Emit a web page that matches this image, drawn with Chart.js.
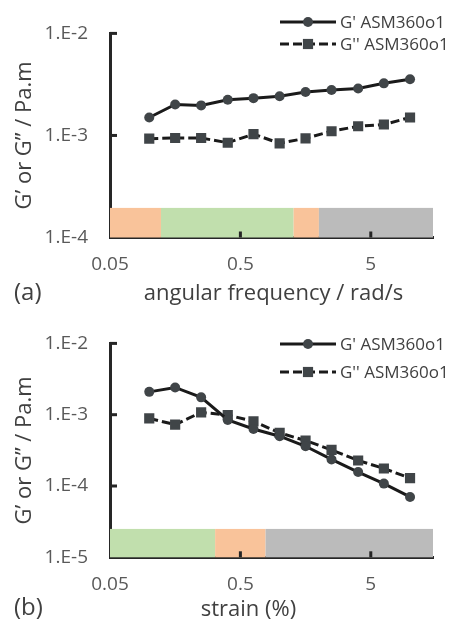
<!DOCTYPE html>
<html>
<head>
<meta charset="utf-8">
<script src="https://cdn.jsdelivr.net/npm/chart.js@4.4.1/dist/chart.umd.min.js"></script>
<style>
  html, body { margin: 0; padding: 0; background: #fff; }
  body { width: 449px; height: 623px; position: relative; overflow: hidden; font-family: "Open Sans", sans-serif; }
  .panel { position: absolute; left: 0; width: 449px; }
  .txt { position: absolute; color: #404040; white-space: nowrap; font-family: "Open Sans", sans-serif; line-height: 1; }
</style>
</head>
<body>
<div class="panel" style="top:0;height:310px;"><canvas id="chartA" width="449" height="310"></canvas></div>
<div class="panel" style="top:310px;height:313px;"><canvas id="chartB" width="449" height="313"></canvas></div>
<div class="txt" id="labA" style="left:14px;top:279px;font-size:24px;">(a)</div>
<div class="txt" id="titleA" style="left:0;width:547px;text-align:center;top:280px;font-size:22px;">angular frequency / rad/s</div>
<div class="txt" id="labB" style="left:14px;top:594px;font-size:24px;">(b)</div>
<div class="txt" id="titleB" style="left:0;width:497px;text-align:center;top:596px;font-size:22px;">strain (%)</div>
<script>
// ---------- data ----------
const seriesLabels = ["G' ASM360o1", "G'' ASM360o1"];

// (a) frequency sweep
const freqA = [0.1, 0.158, 0.25, 0.4, 0.63, 1, 1.58, 2.5, 4, 6.3, 10];
const gPrimeA = [1.50e-3, 2.01e-3, 1.97e-3, 2.24e-3, 2.32e-3, 2.42e-3, 2.67e-3, 2.79e-3, 2.89e-3, 3.24e-3, 3.55e-3];
const gDoubleA = [0.93e-3, 0.944e-3, 0.944e-3, 0.848e-3, 1.03e-3, 0.837e-3, 0.938e-3, 1.10e-3, 1.23e-3, 1.28e-3, 1.50e-3];
const bandEdgesA = [0.05, 0.123, 1.28, 2.0, 15];
const bandColorsA = ['#F9C39A', '#C1DFAD', '#F9C39A', '#BBBBBB'];
const bandTopA = 1.95e-4;
const yTicksA = [1e-4, 1e-3, 1e-2];
const yTickLabelsA = ['1.E-4', '1.E-3', '1.E-2'];

// (b) strain sweep
const strainB = [0.1, 0.158, 0.25, 0.4, 0.63, 1, 1.58, 2.5, 4, 6.3, 10];
const gPrimeB = [2.09e-3, 2.41e-3, 1.75e-3, 0.843e-3, 0.631e-3, 0.499e-3, 0.361e-3, 0.236e-3, 0.157e-3, 0.108e-3, 0.0703e-3];
const gDoubleB = [0.889e-3, 0.725e-3, 1.08e-3, 0.989e-3, 0.807e-3, 0.555e-3, 0.434e-3, 0.321e-3, 0.228e-3, 0.176e-3, 0.129e-3];
const bandEdgesB = [0.05, 0.32, 0.78, 15];
const bandColorsB = ['#C1DFAD', '#F9C39A', '#BBBBBB'];
const bandTopB = 2.5e-5;
const yTicksB = [1e-5, 1e-4, 1e-3, 1e-2];
const yTickLabelsB = ['1.E-5', '1.E-4', '1.E-3', '1.E-2'];

// shared x axis
const xMin = 0.05, xMax = 15;
const xTicks = [0.05, 0.5, 5];
const xTickLabels = ['0.05', '0.5', '5'];
const yTitle = 'G’ or G” / Pa.m';

// ---------- styles ----------
const AXIS = '#262626';
const LINE = '#1a1a1a';
const MARK = '#404548';
const TICKTXT = '#595959';
const FONT = '"Open Sans", sans-serif';

const bandsPlugin = {
  id: 'bands',
  beforeDatasetsDraw(chart, args, opts) {
    const {ctx, scales: {x, y}} = chart;
    const yb = y.getPixelForValue(y.min);
    const yt = y.getPixelForValue(opts.top);
    ctx.save();
    for (let i = 0; i < opts.colors.length; i++) {
      const x0 = x.getPixelForValue(opts.edges[i]);
      const x1 = x.getPixelForValue(opts.edges[i + 1]);
      ctx.fillStyle = opts.colors[i];
      ctx.fillRect(x0, yt, x1 - x0, yb - yt);
    }
    ctx.restore();
  }
};

const innerTicksPlugin = {
  id: 'innerTicks',
  beforeDatasetsDraw(chart, args, opts) {
    const {ctx, scales: {x, y}} = chart;
    const yb = y.getPixelForValue(y.min);
    const xl = x.getPixelForValue(x.min);
    ctx.save();
    ctx.fillStyle = AXIS;
    opts.xTicks.forEach(v => {
      if (v <= x.min) return;
      const px = x.getPixelForValue(v);
      ctx.fillRect(px - 1.5, yb - 6, 3, 6);
    });
    opts.yTicks.forEach(v => {
      if (v <= y.min) return;
      const py = y.getPixelForValue(v);
      ctx.fillRect(xl, py - 1.5, 7, 3);
    });
    ctx.restore();
  }
};

const legendPlugin = {
  id: 'customLegend',
  afterDatasetsDraw(chart, args, opts) {
    const {ctx} = chart;
    ctx.save();
    chart.data.datasets.forEach((ds, i) => {
      const yy = opts.rows[i];
      ctx.strokeStyle = ds.borderColor;
      ctx.lineWidth = ds.borderWidth;
      ctx.setLineDash(ds.borderDash || []);
      ctx.beginPath();
      ctx.moveTo(opts.x0, yy);
      ctx.lineTo(opts.x1, yy);
      ctx.stroke();
      ctx.setLineDash([]);
      ctx.fillStyle = ds.pointBackgroundColor;
      const mx = (opts.x0 + opts.x1) / 2;
      if (ds.pointStyle === 'rect') {
        const s = ds.pointRadius * Math.SQRT1_2;
        ctx.fillRect(mx - s, yy - s, 2 * s, 2 * s);
      } else {
        ctx.beginPath();
        ctx.arc(mx, yy, ds.pointRadius, 0, Math.PI * 2);
        ctx.fill();
      }
      ctx.fillStyle = '#404040';
      ctx.font = '17px ' + FONT;
      ctx.textAlign = 'left';
      ctx.textBaseline = 'middle';
      ctx.fillText(ds.label, opts.x1 + 4, yy + 1);
    });
    ctx.restore();
  }
};

function makeChart(id, xs, gp, gd, cfg) {
  const toPts = arr => arr.map((v, i) => ({x: xs[i], y: v}));
  return new Chart(document.getElementById(id), {
    type: 'line',
    data: {
      datasets: [
        {label: seriesLabels[0], data: toPts(gp), borderColor: LINE, borderWidth: 3,
         pointStyle: 'circle', pointRadius: 5, pointBorderWidth: 0,
         pointBackgroundColor: MARK, pointBorderColor: MARK, tension: 0},
        {label: seriesLabels[1], data: toPts(gd), borderColor: LINE, borderWidth: 3, borderDash: [9, 4],
         pointStyle: 'rect', pointRadius: 7.2, pointBorderWidth: 0,
         pointBackgroundColor: MARK, pointBorderColor: MARK, tension: 0}
      ]
    },
    options: {
      responsive: false,
      animation: false,
      events: [],
      layout: {padding: {top: cfg.top, right: 16, left: 0, bottom: 0}},
      plugins: {
        legend: {display: false},
        tooltip: {enabled: false},
        bands: {edges: cfg.bandEdges, colors: cfg.bandColors, top: cfg.bandTop},
        innerTicks: {xTicks: xTicks, yTicks: cfg.yTicks},
        customLegend: {rows: cfg.legendRows, x0: 280, x1: 336}
      },
      scales: {
        x: {
          type: 'logarithmic', min: xMin, max: xMax,
          afterBuildTicks: s => { s.ticks = xTicks.map(v => ({value: v})); },
          afterFit: s => { s.height = cfg.xHeight; },
          ticks: {
            autoSkip: false, maxRotation: 0, padding: 16, color: TICKTXT,
            font: {family: FONT, size: 19},
            callback: (v) => xTickLabels[xTicks.indexOf(v)]
          },
          grid: {display: true, drawOnChartArea: false, drawTicks: false},
          border: {display: true, color: AXIS, width: 3}
        },
        y: {
          type: 'logarithmic', min: cfg.yTicks[0], max: cfg.yTicks[cfg.yTicks.length - 1],
          afterBuildTicks: s => { s.ticks = cfg.yTicks.map(v => ({value: v})); },
          afterFit: s => { s.width = 110; },
          ticks: {
            autoSkip: false, padding: 22, color: TICKTXT,
            font: {family: FONT, size: 19},
            callback: (v) => cfg.yTickLabels[cfg.yTicks.indexOf(v)]
          },
          grid: {display: true, drawOnChartArea: false, drawTicks: false},
          border: {display: true, color: AXIS, width: 3},
          title: {display: true, text: yTitle, color: '#404040',
                  font: {family: FONT, size: 22}, padding: {top: 12, bottom: 0}}
        }
      }
    },
    plugins: [bandsPlugin, innerTicksPlugin, legendPlugin]
  });
}

makeChart('chartA', freqA, gPrimeA, gDoubleA, {
  top: 22, xHeight: 72.5, bandEdges: bandEdgesA, bandColors: bandColorsA, bandTop: bandTopA,
  yTicks: yTicksA, yTickLabels: yTickLabelsA, legendRows: [22, 44]
});
makeChart('chartB', strainB, gPrimeB, gDoubleB, {
  top: 32, xHeight: 65.7, bandEdges: bandEdgesB, bandColors: bandColorsB, bandTop: bandTopB,
  yTicks: yTicksB, yTickLabels: yTickLabelsB, legendRows: [34, 62]
});
</script>
</body>
</html>
